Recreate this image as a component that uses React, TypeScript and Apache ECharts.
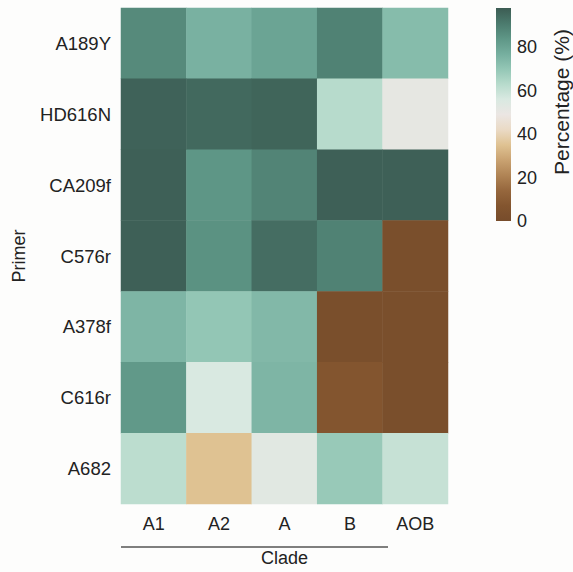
import React, { useEffect, useRef } from "react";
import * as echarts from "echarts";

const clades = ["A1", "A2", "A", "B", "AOB"];
const primers = ["A189Y", "HD616N", "CA209f", "C576r", "A378f", "C616r", "A682"];
const valA189Y = [87, 76, 80, 89, 73];
const valHD616N = [96.5, 95, 96, 63, 51];
const valCA209f = [97, 84, 88.5, 97, 97];
const valC576r = [97, 85, 94, 89, 2];
const valA378f = [75, 70, 74, 2, 2];
const valC616r = [83, 56, 75, 7, 2];
const valA682 = [62, 35, 53, 69, 60];
const rowValues = [valA189Y, valHD616N, valCA209f, valC576r, valA378f, valC616r, valA682];
const scaleMin = 0;
const scaleMax = 98;
const colorTicks = [0, 20, 40, 60, 80];
const palette = [
  "#774c2b", "#83552f", "#96673d", "#b08455", "#c9a271", "#dfc292", "#eadac5",
  "#ebe6e3", "#d9e9e1", "#b7dbcc", "#93c6b5", "#75ae9e", "#5e9686", "#4b7a6d", "#3c5c53",
];

const FONT = "'Liberation Sans', Arial, sans-serif";
const TXT = "#222";

export default function App() {
  const ref = useRef<HTMLDivElement>(null);
  useEffect(() => {
    if (!ref.current) return;
    const chart = echarts.init(ref.current, null, { renderer: "svg" });
    const data: number[][] = [];
    rowValues.forEach((row, r) => row.forEach((v, c) => data.push([c, r, v])));
    const stops = palette.map((col, i) => ({ offset: i / (palette.length - 1), color: col }));
    chart.setOption({
      animation: false,
      backgroundColor: "#fdfdfc",
      textStyle: { fontFamily: FONT },
      grid: [
        { left: 121, top: 8, width: 327, height: 506 },
        { left: 496, top: 8, width: 15, height: 213 },
      ],
      xAxis: [
        {
          gridIndex: 0,
          type: "category",
          data: clades,
          axisLine: { show: false },
          axisTick: { show: false },
          axisLabel: { fontSize: 18, color: TXT, margin: 11, fontFamily: FONT },
          name: "Clade",
          nameLocation: "middle",
          nameGap: 45,
          nameTextStyle: { fontSize: 18, color: TXT, fontFamily: FONT },
          splitLine: { show: false },
        },
        {
          gridIndex: 1,
          type: "category",
          data: [""],
          show: false,
        },
      ],
      yAxis: [
        {
          gridIndex: 0,
          type: "category",
          data: primers,
          inverse: true,
          axisLine: { show: false },
          axisTick: { show: false },
          axisLabel: { fontSize: 18.5, color: TXT, margin: 10, fontFamily: FONT },
          name: "Primer",
          nameLocation: "middle",
          nameGap: 93,
          nameRotate: 90,
          nameTextStyle: { fontSize: 18, color: TXT, fontFamily: FONT },
          splitLine: { show: false },
        },
        {
          gridIndex: 1,
          type: "value",
          position: "right",
          min: scaleMin,
          max: scaleMax,
          interval: 20,
          axisLine: { show: false },
          axisTick: { show: false },
          splitLine: { show: false },
          axisLabel: {
            fontSize: 18,
            color: TXT,
            margin: 6,
            fontFamily: FONT,
            showMaxLabel: false,
            formatter: (v: number) => (colorTicks.includes(v) ? String(v) : ""),
          },
        },
      ],
      visualMap: {
        type: "continuous",
        show: false,
        min: scaleMin,
        max: scaleMax,
        seriesIndex: 0,
        inRange: { color: palette },
      },
      graphic: [
        {
          type: "line",
          shape: { x1: 121, y1: 547, x2: 388, y2: 547 },
          style: { stroke: "#555", lineWidth: 1.5 },
        },
        {
          type: "text",
          x: 561,
          y: 102,
          rotation: Math.PI / 2,
          style: {
            text: "Percentage (%)",
            fontSize: 21,
            fill: TXT,
            fontFamily: FONT,
            align: "center",
            verticalAlign: "middle",
          },
        },
      ],
      series: [
        {
          type: "heatmap",
          xAxisIndex: 0,
          yAxisIndex: 0,
          data,
          itemStyle: { borderWidth: 0 },
          emphasis: { disabled: true },
        },
        {
          type: "bar",
          xAxisIndex: 1,
          yAxisIndex: 1,
          data: [scaleMax],
          barWidth: "100%",
          itemStyle: { color: new echarts.graphic.LinearGradient(0, 1, 0, 0, stops) },
          silent: true,
        },
      ],
    });
    return () => chart.dispose();
  }, []);
  return (
    <div
      ref={ref}
      style={{ position: "fixed", left: 0, top: 0, width: 573, height: 572 }}
    />
  );
}
